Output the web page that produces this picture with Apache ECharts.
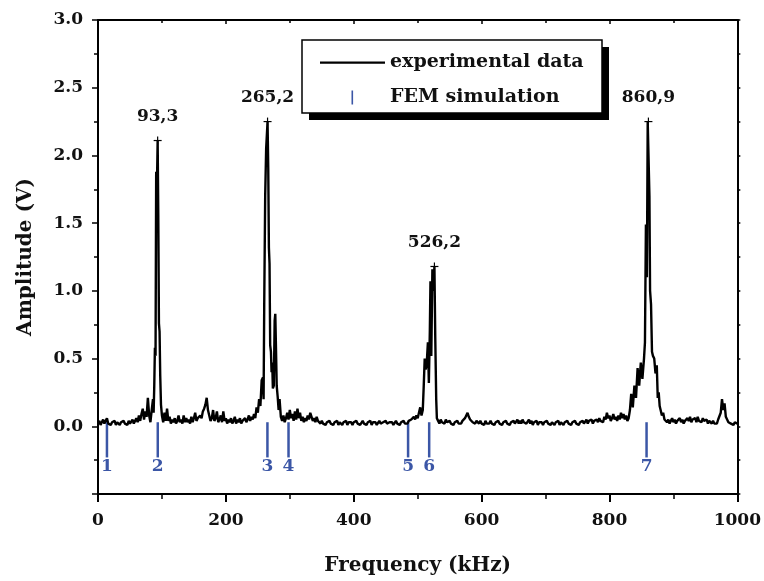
<!DOCTYPE html>
<html>
<head>
<meta charset="utf-8">
<script src="https://cdn.jsdelivr.net/npm/echarts@6/dist/echarts.min.js"></script>
<style>
html,body{margin:0;padding:0;background:#fff;}
#chart{width:764px;height:581px;}
</style>
</head>
<body>
<div id="chart"></div>
<script>
// Experimental spectrum: [frequency kHz, amplitude V]
var experimentalData = [
[0,0.02],[2,0.04],[4,0.01],[6,0.03],[8,0.05],[10,0.02],[12,0.04],[14,0.06],[16,0.02],[18,0.03],[20,0.01],[22,0.03],[24,0.02],[26,0.04],[28,0.01],[30,0.03],[32,0.02],[34,0.01],[36,0.03],[38,0.02],[40,0.04],[42,0.02],[44,0.03],[46,0.01],[48,0.04],[50,0.02],[52,0.03],[54,0.05],[56,0.02],[58,0.04],[60,0.06],[62,0.03],[64,0.08],[66,0.04],[68,0.09],[70,0.13],[72,0.05],[74,0.11],[76,0.07],[78,0.21],[80,0.08],[82,0.03],[84,0.12],[86,0.2],
[87,0.1],[88,0.3],[89,0.58],[90,0.52],[91,1.88],[92,1.72],[93.3,2.11],[94.3,1.55],[95.3,0.76],[96.3,0.7],[97.3,0.38],[98.5,0.16],[100,0.08],
[102,0.03],[104,0.1],[106,0.04],[108,0.13],[110,0.04],[112,0.07],[114,0.02],[116,0.05],[118,0.03],[120,0.06],[122,0.02],[124,0.04],[126,0.08],[128,0.03],[130,0.05],[132,0.02],[134,0.08],[136,0.03],[138,0.06],[140,0.03],[142,0.05],[144,0.02],[146,0.07],[148,0.03],[150,0.06],[152,0.1],[154,0.04],[156,0.06],[158,0.05],[160,0.08],[162,0.06],[164,0.11],[166,0.13],[168,0.16],[170,0.21],[172,0.12],[174,0.08],[176,0.04],[178,0.06],[180,0.12],[182,0.04],[184,0.06],[186,0.11],[188,0.03],[190,0.05],[192,0.08],[194,0.03],[196,0.11],[198,0.04],[200,0.06],[202,0.02],[204,0.05],[206,0.03],[208,0.06],[210,0.02],[212,0.04],[214,0.07],[216,0.02],[218,0.05],[220,0.03],[222,0.06],[224,0.02],[226,0.04],[228,0.03],[230,0.06],[232,0.03],[234,0.05],[236,0.08],[238,0.04],[240,0.07],[242,0.05],[244,0.09],[246,0.06],[248,0.14],[250,0.1],[252,0.2],[254,0.15],
[256,0.34],[258,0.36],[259,0.2],[260,0.9],[261.5,1.7],[263,2.05],[265.2,2.25],[266.3,1.9],[267.3,1.32],[268.3,1.2],[269.3,0.6],[270.5,0.55],[271.5,0.4],[272.5,0.47],[273.5,0.28],[275,0.3],[276.3,0.78],[277.3,0.83],[278.5,0.55],[279.5,0.3],[281,0.22],[282.5,0.12],[284,0.2],[286,0.07],[288,0.04],[290,0.08],
[292,0.03],[294,0.06],[296,0.1],[298,0.05],[300,0.12],[302,0.06],[304,0.09],[306,0.04],[308,0.11],[310,0.05],[312,0.13],[314,0.06],[316,0.1],[318,0.04],[320,0.07],[322,0.03],[324,0.06],[326,0.04],[328,0.08],[330,0.05],[332,0.1],[334,0.07],[336,0.04],[338,0.06],[340,0.03],[342,0.07],[344,0.04],[346,0.05],[348,0.02],[350,0.04],[352,0.02],[354,0.03],[356,0.01],[358,0.03],[360,0.02],[362,0.04],[364,0.02],[366,0.03],[368,0.01],[370,0.03],[372,0.02],[374,0.04],[376,0.01],[378,0.03],[380,0.02],[382,0.01],[384,0.03],[386,0.02],[388,0.04],[390,0.01],[392,0.03],[394,0.02],[396,0.03],[398,0.01],[400,0.03],[402,0.02],[404,0.04],[406,0.02],[408,0.03],[410,0.01],[412,0.02],[414,0.04],[416,0.02],[418,0.03],[420,0.01],[422,0.03],[424,0.02],[426,0.04],[428,0.01],[430,0.03],[432,0.02],[434,0.03],[436,0.01],[438,0.02],[440,0.04],[442,0.02],[444,0.01],[446,0.03],[448,0.02],[450,0.04],[452,0.02],[454,0.01],[456,0.03],[458,0.02],[460,0.03],[462,0.01],[464,0.02],[466,0.04],[468,0.02],[470,0.03],[472,0.01],[474,0.03],[476,0.02],[478,0.04],[480,0.02],[482,0.03],[484,0.02],[486,0.04],[488,0.03],[490,0.05],[492,0.04],[494,0.07],[496,0.05],[498,0.08],[500,0.06],[502,0.1],[504,0.14],[506,0.08],[508,0.12],
[509.5,0.3],[511,0.5],[512.5,0.42],[514,0.45],[516,0.62],[517.5,0.32],[519,0.7],[520,1.07],[521.3,0.52],[523,1.16],[525,1.0],[526.2,1.18],[527.5,0.66],[529,0.2],[530,0.06],
[532,0.04],[534,0.02],[536,0.05],[538,0.03],[540,0.04],[542,0.02],[544,0.05],[546,0.03],[548,0.02],[550,0.04],[552,0.02],[554,0.03],[556,0.01],[558,0.03],[560,0.02],[562,0.04],[564,0.02],[566,0.03],[568,0.02],[570,0.04],[572,0.05],[574,0.06],[576,0.08],[578,0.1],[580,0.07],[582,0.05],[584,0.06],[586,0.03],[588,0.04],[590,0.02],[592,0.04],[594,0.03],[596,0.02],[598,0.04],[600,0.02],[602,0.03],[604,0.01],[606,0.04],[608,0.02],[610,0.03],[612,0.02],[614,0.04],[616,0.02],[618,0.03],[620,0.01],[622,0.03],[624,0.02],[626,0.04],[628,0.02],[630,0.03],[632,0.01],[634,0.03],[636,0.02],[638,0.04],[640,0.02],[642,0.03],[644,0.01],[646,0.03],[648,0.02],[650,0.04],[652,0.02],[654,0.03],[656,0.05],[658,0.02],[660,0.04],[662,0.02],[664,0.05],[666,0.03],[668,0.04],[670,0.02],[672,0.03],[674,0.05],[676,0.02],[678,0.04],[680,0.01],[682,0.03],[684,0.02],[686,0.04],[688,0.01],[690,0.03],[692,0.02],[694,0.03],[696,0.01],[698,0.03],[700,0.02],[702,0.04],[704,0.02],[706,0.03],[708,0.01],[710,0.03],[712,0.02],[714,0.01],[716,0.03],[718,0.02],[720,0.04],[722,0.01],[724,0.03],[726,0.02],[728,0.01],[730,0.03],[732,0.02],[734,0.04],[736,0.02],[738,0.03],[740,0.01],[742,0.03],[744,0.02],[746,0.04],[748,0.02],[750,0.03],[752,0.01],[754,0.03],[756,0.02],[758,0.04],[760,0.02],[762,0.03],[764,0.05],[766,0.02],[768,0.04],[770,0.03],[772,0.05],[774,0.02],[776,0.04],[778,0.03],[780,0.05],[782,0.03],[784,0.06],[786,0.04],[788,0.05],[790,0.03],[792,0.07],[794,0.05],[796,0.1],[798,0.06],[800,0.08],[802,0.04],[804,0.06],[806,0.09],[808,0.05],[810,0.07],[812,0.04],[814,0.08],[816,0.05],[818,0.1],[820,0.06],[822,0.09],[824,0.05],[826,0.08],[828,0.04],[830,0.06],
[832,0.12],[834,0.24],[836.5,0.14],[839,0.3],[841.5,0.21],[844,0.43],[846.5,0.3],[849,0.47],[851.5,0.35],[854,0.5],[855.5,0.62],[857,1.49],[858.5,1.1],[859.8,2.25],[861.5,2.25],[862.5,1.7],[863.5,1.0],[865,0.9],[866.5,0.55],[868,0.52],[870,0.5],[872,0.39],[874,0.45],[875.5,0.21],[877,0.25],[878.5,0.15],[880,0.12],[882,0.08],[884,0.1],[886,0.05],[888,0.06],
[890,0.03],[892,0.05],[894,0.02],[896,0.04],[898,0.06],[900,0.03],[902,0.05],[904,0.02],[906,0.04],[908,0.03],[910,0.06],[912,0.03],[914,0.05],[916,0.02],[918,0.04],[920,0.03],[922,0.06],[924,0.04],[926,0.07],[928,0.03],[930,0.05],[932,0.04],[934,0.06],[936,0.03],[938,0.07],[940,0.04],[942,0.05],[944,0.03],[946,0.06],[948,0.04],[950,0.03],[952,0.05],[954,0.02],[956,0.04],[958,0.03],[960,0.02],[962,0.04],[964,0.02],[966,0.03],[968,0.02],[970,0.05],[972,0.04],[974,0.1],[976,0.2],[978,0.12],[980,0.17],[982,0.07],[984,0.05],[986,0.03],[988,0.04],[990,0.02],[992,0.03],[994,0.01],[996,0.03],[998,0.02],[1000,0.02]
];

// FEM simulated eigenfrequencies (kHz) and mode numbers
var femFreq = [14, 93.5, 265, 298, 485, 518, 858];
var femLabel = ['1', '2', '3', '4', '5', '6', '7'];

// Annotated peaks
var peakFreq = [93.3, 265.2, 526.2, 860.9];
var peakAmp = [2.11, 2.25, 1.18, 2.25];
var peakLabel = ['93,3', '265,2', '526,2', '860,9'];

// Axis ticks
var xTicks = [0, 200, 400, 600, 800, 1000];
var yTicks = [0.0, 0.5, 1.0, 1.5, 2.0, 2.5, 3.0];

var FONT = '"DejaVu Serif", "Liberation Serif", serif';
var BLUE = '#3b56a6';
var INK = '#111111';

var chart = echarts.init(document.getElementById('chart'), null, {renderer: 'canvas'});

var axisCommon = {
  type: 'value',
  splitLine: {show: false},
  axisLine: {show: true, onZero: false, lineStyle: {color: '#000', width: 2}},
  axisTick: {show: true, length: 6, lineStyle: {color: '#000', width: 1.5}},
  minorTick: {show: true, splitNumber: 2, length: 4, lineStyle: {color: '#000', width: 1.5}},
  minorSplitLine: {show: false}
};

var option = {
  animation: false,
  backgroundColor: '#ffffff',
  grid: {left: 98, right: 24, top: 20, bottom: 81, containLabel: false},
  graphic: [
    {type: 'rect', z: 5, silent: true, shape: {x: 309, y: 47, width: 300, height: 73},
     style: {fill: '#000'}},
    {type: 'rect', z: 6, silent: true, shape: {x: 302, y: 40, width: 300, height: 73},
     style: {fill: '#fff', stroke: '#000', lineWidth: 1.5}}
  ],
  legend: {
    orient: 'vertical',
    left: 302,
    top: 40,
    z: 10,
    backgroundColor: 'transparent',
    borderWidth: 0,
    padding: [13, 12, 6, 18],
    itemGap: 16,
    itemWidth: 65,
    itemHeight: 16,
    textStyle: {fontFamily: FONT, fontWeight: 'bold', fontSize: 19, color: INK},
    data: [
      {name: 'experimental data', icon: 'path://M0,0L0.01,0M0,6.9h65v2.4h-65zM65,16L65.01,16'},
      {name: 'FEM simulation', icon: 'path://M0,0L0.01,0M31.5,1h1.6v14h-1.6zM65,16L65.01,16'}
    ]
  },
  xAxis: [
    Object.assign({}, axisCommon, {
      position: 'bottom',
      min: xTicks[0], max: xTicks[xTicks.length - 1], interval: 200,
      axisTick: {show: true, length: 8, lineStyle: {color: '#000', width: 2}},
      minorTick: {show: true, splitNumber: 2, length: 5, lineStyle: {color: '#000', width: 1.5}},
      axisLabel: {show: true, margin: 18, color: INK, fontFamily: FONT, fontWeight: 'bold', fontSize: 17,
        formatter: function (v) { return String(v); }},
      name: 'Frequency (kHz)',
      nameLocation: 'middle',
      nameGap: 62,
      nameTextStyle: {fontFamily: FONT, fontWeight: 'bold', fontSize: 20, color: INK}
    }),
    Object.assign({}, axisCommon, {
      position: 'top',
      min: xTicks[0], max: xTicks[xTicks.length - 1], interval: 200,
      axisTick: {show: true, inside: true, length: 4, lineStyle: {color: '#000', width: 1.5}},
      minorTick: {show: true, splitNumber: 2, length: 3, lineStyle: {color: '#000', width: 1.5}},
      axisLabel: {show: false}
    })
  ],
  yAxis: [
    Object.assign({}, axisCommon, {
      position: 'left',
      min: -0.5, max: yTicks[yTicks.length - 1], interval: 0.5,
      axisLabel: {
        show: true, margin: 15, color: INK, fontFamily: FONT, fontWeight: 'bold', fontSize: 17,
        formatter: function (v) { return v < 0 ? '' : v.toFixed(1); }
      },
      name: 'Amplitude (V)',
      nameLocation: 'middle',
      nameGap: 62,
      nameTextStyle: {fontFamily: FONT, fontWeight: 'bold', fontSize: 20, color: INK}
    }),
    Object.assign({}, axisCommon, {
      position: 'right',
      min: -0.5, max: 3.0, interval: 0.5,
      axisTick: {show: true, length: 3, lineStyle: {color: '#000', width: 1.5}},
      minorTick: {show: true, splitNumber: 2, length: 3, lineStyle: {color: '#000', width: 1.5}},
      axisLabel: {show: false}
    })
  ],
  series: [
    {
      name: 'FEM simulation',
      type: 'custom',
      xAxisIndex: 0,
      yAxisIndex: 0,
      color: BLUE,
      itemStyle: {color: BLUE},
      z: 2,
      clip: false,
      encode: {x: 0, y: 1},
      data: femFreq.map(function (f) { return [f, 0]; }),
      renderItem: function (params, api) {
        var f = api.value(0);
        var top = api.coord([f, 0.03]);
        var bot = api.coord([f, -0.23]);
        var lab = api.coord([f, -0.30]);
        return {
          type: 'group',
          children: [
            {type: 'line', shape: {x1: top[0], y1: top[1], x2: bot[0], y2: bot[1]},
             style: {stroke: BLUE, lineWidth: 2.5}},
            {type: 'text', style: {text: femLabel[params.dataIndex], x: lab[0], y: lab[1],
             align: 'center', verticalAlign: 'middle',
             font: 'bold 17px ' + FONT, fill: BLUE}}
          ]
        };
      }
    },
    {
      name: 'experimental data',
      type: 'line',
      xAxisIndex: 0,
      yAxisIndex: 0,
      data: experimentalData,
      symbol: 'none',
      showSymbol: false,
      smooth: false,
      color: '#000',
      lineStyle: {color: '#000', width: 2.4},
      z: 3
    },
    {
      name: 'peaks',
      type: 'custom',
      xAxisIndex: 0,
      yAxisIndex: 0,
      z: 4,
      clip: false,
      encode: {x: 0, y: 1},
      data: peakFreq.map(function (f, i) { return [f, peakAmp[i]]; }),
      renderItem: function (params, api) {
        var p = api.coord([api.value(0), api.value(1)]);
        return {
          type: 'group',
          children: [
            {type: 'line', shape: {x1: p[0] - 4, y1: p[1], x2: p[0] + 4, y2: p[1]},
             style: {stroke: '#000', lineWidth: 1.2}},
            {type: 'line', shape: {x1: p[0], y1: p[1] - 4, x2: p[0], y2: p[1] + 4},
             style: {stroke: '#000', lineWidth: 1.2}},
            {type: 'text', style: {text: peakLabel[params.dataIndex], x: p[0], y: p[1] - 24,
             align: 'center', verticalAlign: 'middle',
             font: 'bold 17px ' + FONT, fill: INK}}
          ]
        };
      }
    }
  ]
};

chart.setOption(option);
</script>
</body>
</html>
